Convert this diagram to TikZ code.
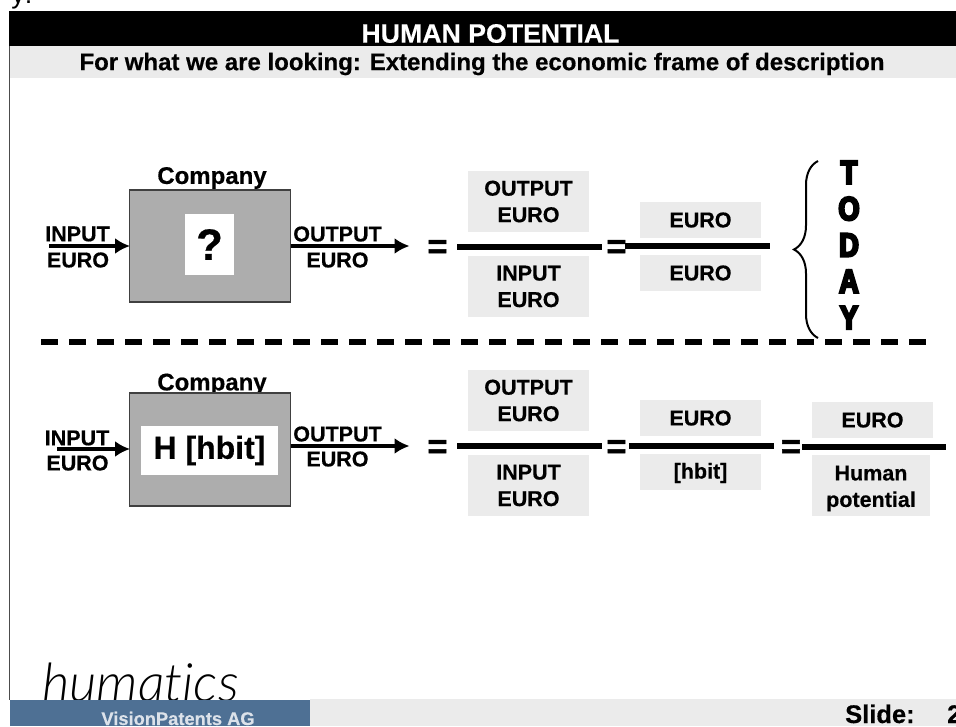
\documentclass[tikz,border=0pt]{standalone}
\usepackage{fontspec}
\usepackage{tikz}
\usetikzlibrary{decorations.pathreplacing,arrows.meta}
\setmainfont{Liberation Sans}[BoldFeatures={FakeBold=0.4}]
\newfontfamily\logofont[Ligatures=NoCommon]{Lato Light}
\newfontfamily\todayfont[FakeBold=7,FakeStretch=0.82]{Liberation Sans Bold}
\newfontfamily\eqfont[FakeBold=1.5]{Liberation Sans Bold}
\definecolor{barGray}{HTML}{EBEBEB}
\definecolor{boxGray}{HTML}{ADADAD}
\definecolor{footBlue}{HTML}{4E7094}
\newcommand{\fsize}[1]{\fontsize{#1}{#1}\selectfont}
\tikzset{
  lbl/.style={inner sep=0pt, font=\fsize{21.5}\bfseries, align=center},
  company/.style={lbl, font=\fsize{24}\bfseries},
  eqsign/.style={inner sep=0pt, font=\eqfont\fsize{34}},
  greybox/.style={fill=barGray, inner sep=0pt, outer sep=0pt, anchor=north west},
  companybox/.style={fill=boxGray, draw=black!75, line width=0.5mm, inner sep=0pt, outer sep=0pt, anchor=north west},
  whitebox/.style={fill=white, inner sep=0pt, outer sep=0pt},
  flow/.style={line width=1.6mm, -{Latex[length=15pt,width=16pt]}, shorten >=-0.5pt},
  fracbar/.style={line width=2mm},
}
\begin{document}
\begin{tikzpicture}[x=1pt,y=-1pt]
  \useasboundingbox (0,0) rectangle (956,726);
  \fill[white] (0,0) rectangle (956,726);
  \node[inner sep=0pt, font=\fsize{27}] (cutoff) at (22,-1) {y:};

  % header
  \fill[barGray] (10,46) rectangle (956,78);
  \fill (9,11) rectangle (956,46);
  \node[inner sep=0pt, text=white, font=\fsize{26.7}\bfseries] (title) at (490.5,33.5) {HUMAN POTENTIAL};
  \node[inner sep=0pt, font=\fsize{24}\bfseries] (subtitle) at (482,64) {For what we are looking: Extending the economic frame of description};
  \draw[line width=0.4mm, black!70] (9.5,46) -- (9.5,700);

  % upper row
  \node[company] (company1) at (212,178) {Company};
  \node[companybox, minimum width=161, minimum height=112] (box1) at (129.5,190) {};
  \node[whitebox, minimum width=49, minimum height=61, font=\fsize{44}\bfseries] (what) at (209.5,244.5) {\raisebox{-3pt}{?}};
  \coordinate (in1) at (49,246);
  \coordinate (out1) at (409,246);
  \draw[flow] (in1) -- (box1.west |- in1);
  \draw[flow] (box1.east |- out1) -- (out1);
  \node[lbl] (input1) at (77.5,234) {INPUT};
  \node[lbl] (inunit1) at (78,260) {EURO};
  \node[lbl] (output1) at (337.5,234) {OUTPUT};
  \node[lbl] (outunit1) at (337.5,260) {EURO};

  \node[eqsign] (eq1) at (437.5,249) {=};
  \node[eqsign] (eq2) at (616.5,249) {=};
  \node[greybox, minimum width=121, minimum height=61] (num1) at (468,171) {};
  \node[lbl] at (num1.center) {OUTPUT\\[5pt]EURO};
  \node[greybox, minimum width=121, minimum height=61] (den1) at (468,256) {};
  \node[lbl] at (den1.center) {INPUT\\[5pt]EURO};
  \node[greybox, minimum width=121, minimum height=36] (num2) at (640,202) {};
  \node[lbl] at (num2.center) {EURO};
  \node[greybox, minimum width=121, minimum height=36] (den2) at (640,255) {};
  \node[lbl] at (den2.center) {EURO};
  \coordinate (barA) at (457,247);
  \coordinate (barB) at (602,247);
  \coordinate (barC) at (625,246);
  \coordinate (barD) at (770,246);
  \draw[fracbar] (barA) -- (barB);
  \draw[fracbar] (barC) -- (barD);

  \coordinate (braceLow) at (818,338);
  \coordinate (braceUp) at (818,161);
  \draw [decoration={brace,amplitude=24pt,aspect=0.5}, decorate, line width=0.7mm] (braceLow) -- (braceUp);
  \node[inner sep=0pt, align=center, font=\todayfont\fontsize{33}{36.3}\selectfont] (today) at (849,245) {T\\O\\D\\A\\Y};

  % dashed line
  \coordinate (dashL) at (41,342);
  \coordinate (dashR) at (926,342);
  \draw[line width=1.9mm, dash pattern=on 17pt off 11pt] (dashL) -- (dashR);

  % lower row
  \node[company] (company2) at (212,384.5) {Company};
  \node[companybox, minimum width=161, minimum height=113] (box2) at (129.5,393) {};
  \node[whitebox, minimum width=137, minimum height=49, font=\fsize{32}\bfseries] (hbit) at (209.5,450.5) {\raisebox{-2pt}{H [hbit]}};
  \coordinate (in2) at (57,449);
  \coordinate (out2) at (409,446);
  \draw[flow] (in2) -- (box2.west |- in2);
  \draw[flow] (box2.east |- out2) -- (out2);
  \node[lbl] (input2) at (77,438) {INPUT};
  \node[lbl] (inunit2) at (77.5,463) {EURO};
  \node[lbl] (output2) at (337.5,434) {OUTPUT};
  \node[lbl] (outunit2) at (337.5,459) {EURO};

  \node[eqsign] (eq3) at (437.5,449) {=};
  \node[eqsign] (eq4) at (616.5,449) {=};
  \node[eqsign] (eq5) at (791,449) {=};
  \node[greybox, minimum width=121, minimum height=61] (num3) at (468,370) {};
  \node[lbl] at (num3.center) {OUTPUT\\[5pt]EURO};
  \node[greybox, minimum width=121, minimum height=61] (den3) at (468,455) {};
  \node[lbl] at (den3.center) {INPUT\\[5pt]EURO};
  \node[greybox, minimum width=121, minimum height=36] (num4) at (640,400) {};
  \node[lbl] at (num4.center) {EURO};
  \node[greybox, minimum width=121, minimum height=36] (den4) at (640,454) {};
  \node[lbl, yshift=-1pt] at (den4.center) {[hbit]};
  \node[greybox, minimum width=121, minimum height=36] (num5) at (812,402) {};
  \node[lbl] at (num5.center) {EURO};
  \node[greybox, minimum width=118, minimum height=61] (den5) at (812,455) {};
  \node[lbl, yshift=-3pt] at (den5.center) {Human\\[5pt]potential};
  \coordinate (barE) at (457,446);
  \coordinate (barF) at (602,446);
  \coordinate (barG) at (629,446);
  \coordinate (barH) at (774,446);
  \coordinate (barI) at (802,447);
  \coordinate (barJ) at (946,447);
  \draw[fracbar] (barE) -- (barF);
  \draw[fracbar] (barG) -- (barH);
  \draw[fracbar] (barI) -- (barJ);

  % footer
  \node[inner sep=0pt, anchor=base west, font=\logofont\itshape\fsize{53}] (logo) at (42,701) {humatics};
  \fill[barGray] (310,699) rectangle (956,726);
  \fill[footBlue] (10,700) rectangle (310,726);
  \node[inner sep=0pt, anchor=base, text=white!80!footBlue, font=\fsize{18.3}\bfseries] (firm) at (178,725) {VisionPatents AG};
  \node[inner sep=0pt, anchor=base west, font=\fsize{25.5}\bfseries] (slide) at (845,723) {Slide:};
  \node[inner sep=0pt, anchor=base west, font=\fsize{25.5}\bfseries] (slidenum) at (947,723) {2};
\end{tikzpicture}
\end{document}
